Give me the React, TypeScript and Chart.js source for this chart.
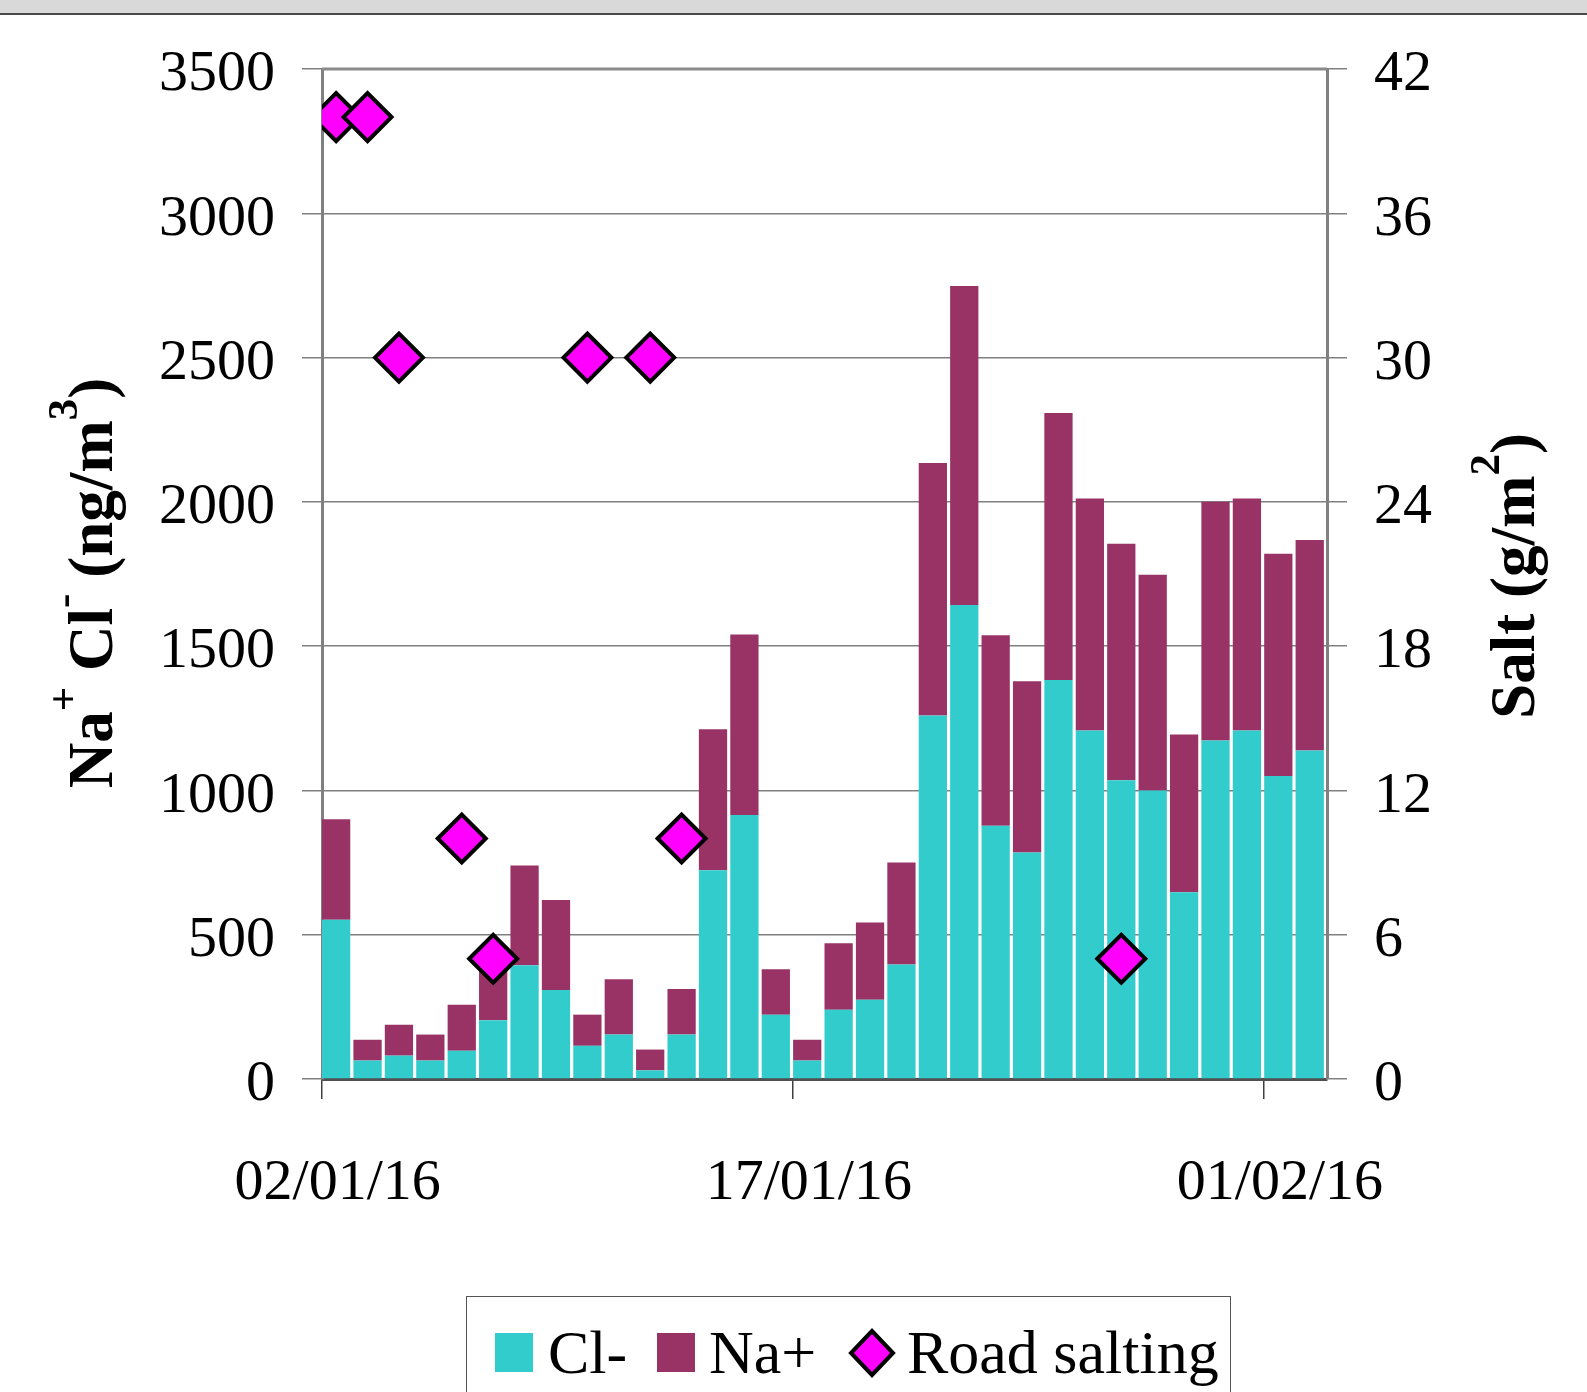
import React, { useEffect, useRef } from "react";
import { Chart, registerables } from "chart.js";

Chart.register(...registerables);

// ---- Data ----
const dates = [
  "02/01/16", "03/01/16", "04/01/16", "05/01/16", "06/01/16", "07/01/16", "08/01/16", "09/01/16",
  "10/01/16", "11/01/16", "12/01/16", "13/01/16", "14/01/16", "15/01/16", "16/01/16", "17/01/16",
  "18/01/16", "19/01/16", "20/01/16", "21/01/16", "22/01/16", "23/01/16", "24/01/16", "25/01/16",
  "26/01/16", "27/01/16", "28/01/16", "29/01/16", "30/01/16", "31/01/16", "01/02/16", "02/02/16",
];

const clValues = [
  552, 64, 81, 64, 98, 204, 394, 308, 115, 154, 30, 154, 723, 915, 223, 64,
  240, 275, 397, 1260, 1643, 878, 785, 1383, 1208, 1035, 1000, 647, 1173, 1208, 1050, 1138,
];

const naValues = [
  348, 72, 107, 90, 159, 196, 346, 312, 108, 192, 72, 158, 489, 625, 157, 72,
  230, 267, 353, 875, 1105, 660, 593, 925, 804, 820, 747, 547, 827, 804, 770, 730,
];

const roadSalting: (number | null)[] = [
  40, 40, 30, null, 10, 5, null, null, 30, null, 30, 10, null, null, null, null,
  null, null, null, null, null, null, null, null, null, 5, null, null, null, null, null, null,
];

const xTickIndex = [0, 15, 30];

const leftTitleParts = [
  { t: "Na", sup: false },
  { t: "+", sup: true },
  { t: " Cl", sup: false },
  { t: "-", sup: true },
  { t: " (ng/m", sup: false },
  { t: "3", sup: true },
  { t: ")", sup: false },
];
const rightTitleParts = [
  { t: "Salt (g/m", sup: false },
  { t: "2", sup: true },
  { t: ")", sup: false },
];

const SERIF = '"Liberation Serif", "Times New Roman", serif';
const BAR_OFFSET = 0.45;

function drawRotatedTitle(ctx: CanvasRenderingContext2D, parts: { t: string; sup: boolean }[], bx: number, cy: number) {
  const main = `bold 63px ${SERIF}`;
  const sup = `bold 43px ${SERIF}`;
  ctx.save();
  let total = 0;
  const widths = parts.map((p) => {
    ctx.font = p.sup ? sup : main;
    const w = ctx.measureText(p.t).width;
    total += w;
    return w;
  });
  ctx.translate(bx, cy);
  ctx.rotate(-Math.PI / 2);
  ctx.fillStyle = "#000";
  ctx.textBaseline = "alphabetic";
  ctx.textAlign = "left";
  let x = -total / 2;
  parts.forEach((p, i) => {
    ctx.font = p.sup ? sup : main;
    ctx.fillText(p.t, x, p.sup ? -35 : 0);
    x += widths[i];
  });
  ctx.restore();
}

const decorPlugin = {
  id: "decor",
  beforeDatasetsDraw(chart: any) {
    const { ctx, chartArea } = chart;
    ctx.save();
    ctx.strokeStyle = "#8a8a8a";
    ctx.lineWidth = 3;
    ctx.beginPath();
    ctx.moveTo(chartArea.left, chartArea.top);
    ctx.lineTo(chartArea.right, chartArea.top);
    ctx.stroke();
    ctx.restore();
  },
  afterDraw(chart: any) {
    const { ctx, chartArea } = chart;
    const midY = (chartArea.top + chartArea.bottom) / 2;
    drawRotatedTitle(ctx, leftTitleParts, chartArea.left - 210, midY + 9);
    drawRotatedTitle(ctx, rightTitleParts, chartArea.right + 207, midY + 2);
  },
};

export default function App() {
  const ref = useRef<HTMLCanvasElement>(null);

  useEffect(() => {
    const tickFont = { family: SERIF, size: 58 };
    const saltPoints = roadSalting
      .map((v, i) => (v == null ? null : { x: i + BAR_OFFSET, y: v }))
      .filter((p) => p !== null);

    const chart = new Chart(ref.current as HTMLCanvasElement, {
      type: "bar",
      data: {
        datasets: [
          {
            type: "bar",
            label: "Cl-",
            data: clValues.map((v, i) => ({ x: i + BAR_OFFSET, y: v })),
            backgroundColor: "#33CCCC",
            borderWidth: 0,
            categoryPercentage: 1,
            barPercentage: 0.9,
            xAxisID: "x",
            yAxisID: "y",
            order: 1,
          },
          {
            type: "bar",
            label: "Na+",
            data: naValues.map((v, i) => ({ x: i + BAR_OFFSET, y: v })),
            backgroundColor: "#993366",
            borderWidth: 0,
            categoryPercentage: 1,
            barPercentage: 0.9,
            xAxisID: "x",
            yAxisID: "y",
            order: 1,
          },
          {
            type: "line",
            label: "Road salting",
            data: saltPoints as any,
            xAxisID: "x",
            yAxisID: "y2",
            showLine: false,
            pointStyle: "rectRot",
            pointRadius: 24,
            pointBackgroundColor: "#FF00FF",
            pointBorderColor: "#000000",
            pointBorderWidth: 4,
            order: 0,
          } as any,
        ],
      },
      options: {
        animation: false,
        responsive: false,
        devicePixelRatio: 1,
        layout: { padding: { top: 69, left: 0, right: 0, bottom: 0 } },
        plugins: {
          legend: { display: false },
          tooltip: { enabled: false },
        },
        scales: {
          x: {
            type: "linear",
            min: 0,
            max: 32,
            stacked: true,
            offset: false,
            afterBuildTicks: (s: any) => {
              s.ticks = xTickIndex.map((v) => ({ value: v }));
            },
            afterFit: (s: any) => {
              s.height = 313;
            },
            grid: {
              offset: false,
              drawOnChartArea: false,
              drawTicks: true,
              tickLength: 20,
              color: "#404040",
              lineWidth: 1.5,
            },
            border: { display: true, color: "#505050", width: 3 },
            ticks: {
              callback: (v: any) => dates[v as number],
              font: tickFont,
              color: "#000",
              padding: 50,
              labelOffset: 15.7,
              maxRotation: 0,
              autoSkip: false,
            },
          },
          y: {
            position: "left",
            stacked: true,
            min: 0,
            max: 3500,
            afterFit: (s: any) => {
              s.width = 322;
            },
            ticks: {
              stepSize: 500,
              font: tickFont,
              color: "#000",
              padding: 27,
              labelOffset: 6,
              callback: (v: any) => String(v),
            },
            grid: { color: "#808080", lineWidth: 1.5, tickLength: 20 },
            border: { color: "#808080", width: 3 },
          },
          y2: {
            position: "right",
            min: 0,
            max: 42,
            afterFit: (s: any) => {
              s.width = 260;
            },
            ticks: {
              stepSize: 6,
              font: tickFont,
              color: "#000",
              padding: 27,
              labelOffset: 6,
              callback: (v: any) => String(v),
            },
            grid: { drawOnChartArea: false, color: "#808080", lineWidth: 1.5, tickLength: 20 },
            border: { color: "#808080", width: 3 },
          },
        },
      } as any,
      plugins: [decorPlugin],
    });
    return () => chart.destroy();
  }, []);

  const legendText: React.CSSProperties = {
    position: "absolute",
    top: 24,
    fontFamily: SERIF,
    fontSize: 62,
    lineHeight: 1,
    color: "#000",
    whiteSpace: "nowrap",
  };

  return (
    <div
      style={{
        position: "fixed",
        left: 0,
        top: 0,
        width: 1587,
        height: 1392,
        overflow: "hidden",
        background: "#fff",
      }}
    >
      <canvas
        ref={ref}
        width={1587}
        height={1392}
        style={{ position: "absolute", left: 0, top: 0, width: 1587, height: 1392 }}
      />
      <div
        style={{
          position: "absolute",
          left: 0,
          top: 0,
          width: 1587,
          height: 13,
          background: "#d9d9d9",
          borderBottom: "2px solid #4a4a4a",
        }}
      />
      <div
        style={{
          position: "absolute",
          left: 466,
          top: 1296,
          width: 763,
          height: 130,
          border: "1.5px solid #555",
          background: "#fff",
        }}
      >
        <div style={{ position: "absolute", left: 28, top: 36, width: 38, height: 39, background: "#33CCCC" }} />
        <span style={{ ...legendText, left: 81 }}>Cl-</span>
        <div style={{ position: "absolute", left: 190, top: 36, width: 38, height: 39, background: "#993366" }} />
        <span style={{ ...legendText, left: 242 }}>Na+</span>
        <svg style={{ position: "absolute", left: 381, top: 31 }} width={48} height={50} viewBox="0 0 48 50">
          <polygon points="24,3 45,25 24,47 3,25" fill="#FF00FF" stroke="#000" strokeWidth={4} />
        </svg>
        <span style={{ ...legendText, left: 440 }}>Road salting</span>
      </div>
    </div>
  );
}
